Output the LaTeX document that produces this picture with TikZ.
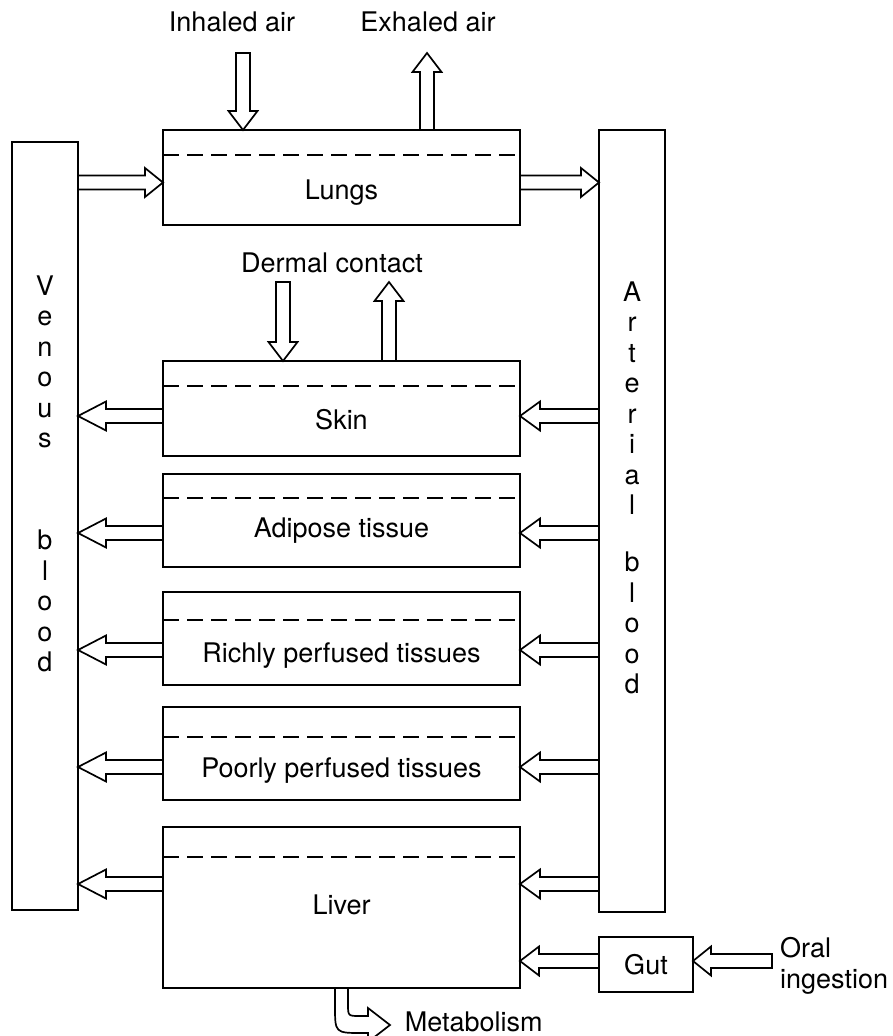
\documentclass[tikz,border=0pt]{standalone}
\usepackage{fontspec}
\setmainfont{TeX Gyre Heros}
\usetikzlibrary{calc}

\tikzset{
  box/.style={draw, rectangle, minimum width=357pt, anchor=north west, inner sep=0pt, outer sep=0pt},
  split/.style={dashed, dash pattern=on 16pt off 8pt},
  % block arrow outline, #1 is the length of the head
  hollow/.style={draw, line join=miter, to path={
      ($(\tikztostart)!7pt!-90:(\tikztotarget)$)
      -- ($(\tikztotarget)!#1!(\tikztostart)!7pt!-90:(\tikztotarget)$)
      -- ($(\tikztotarget)!#1!(\tikztostart)!14.5pt!-90:(\tikztotarget)$)
      -- (\tikztotarget)
      -- ($(\tikztotarget)!#1!(\tikztostart)!14.5pt!90:(\tikztotarget)$)
      -- ($(\tikztotarget)!#1!(\tikztostart)!7pt!90:(\tikztotarget)$)
      -- ($(\tikztostart)!7pt!90:(\tikztotarget)$) -- cycle}},
  hollow/.default=19pt
}

\begin{document}
\begin{tikzpicture}[x=1pt, y=-1pt, line width=1.7pt,
    every node/.style={font=\fontsize{27}{30.5}\selectfont}]
  \useasboundingbox (0,0) rectangle (893,1036);

  % compartments
  \node[box, minimum height=95pt] (lungs) at (163,130) {};
  \node[box, minimum height=95pt] (skin) at (163,361) {};
  \node[box, minimum height=93pt] (adip) at (163,474) {};
  \node[box, minimum height=93pt] (rich) at (163,592) {};
  \node[box, minimum height=93pt] (poor) at (163,707) {};
  \node[box, minimum height=161pt] (liver) at (163,827) {};
  \node[box, minimum width=66pt, minimum height=768pt] (ven) at (12,142) {};
  \node[box, minimum width=66pt, minimum height=782pt] (art) at (599,130) {};
  \node[box, minimum width=94pt, minimum height=55pt] (gut) at (599,937) {Gut};

  \draw[split] ([yshift=-25pt]lungs.north west) -- ([yshift=-25pt]lungs.north east);
  \draw[split] ([yshift=-25pt]skin.north west) -- ([yshift=-25pt]skin.north east);
  \draw[split] ([yshift=-24pt]adip.north west) -- ([yshift=-24pt]adip.north east);
  \draw[split] ([yshift=-28pt]rich.north west) -- ([yshift=-28pt]rich.north east);
  \draw[split] ([yshift=-30pt]poor.north west) -- ([yshift=-30pt]poor.north east);
  \draw[split] ([yshift=-30pt]liver.north west) -- ([yshift=-30pt]liver.north east);

  \node (lungslbl) at (341.5,193) {Lungs};
  \node (skinlbl) at (341.5,420) {Skin};
  \node (adiplbl) at (341.5,531) {Adipose tissue};
  \node (richlbl) at (341.5,656) {Richly perfused tissues};
  \node (poorlbl) at (341.5,771) {Poorly perfused tissues};
  \node (liverlbl) at (341.5,905) {Liver};

  % blood pools, one letter per line
  \node[align=center] (ven1) at (45,362) {V\\e\\n\\o\\u\\s};
  \node[align=center] (ven2) at (45,601) {b\\l\\o\\o\\d};
  \node[align=center] (art1) at (632,398) {A\\r\\t\\e\\r\\i\\a\\l};
  \node[align=center] (art2) at (632,623) {b\\l\\o\\o\\d};

  % exchange with the outside
  \node (inhaled) at (232,22) {Inhaled air};
  \node (exhaled) at (428,22) {Exhaled air};
  \node (dermal) at (332,263) {Dermal contact};
  \coordinate (inh) at (243,53);
  \coordinate (exh) at (427,53);
  \coordinate (din) at (283,282);
  \coordinate (dout) at (389,282);
  \draw[hollow] (inh) to (inh |- lungs.north);
  \draw[hollow] (exh |- lungs.north) to (exh);
  \draw[hollow] (din) to (din |- skin.north);
  \draw[hollow] (dout |- skin.north) to (dout);

  % lung circulation
  \draw[hollow=18pt] (ven.east |- 0,182.5) to (lungs.west |- 0,182.5);
  \draw[hollow=18pt] (lungs.east |- 0,182.5) to (art.west |- 0,182.5);

  % arterial in, venous out
  \draw[hollow=20pt] (art.west |- 0,416) to (skin.east |- 0,416);
  \draw[hollow=28pt] (skin.west |- 0,416) to (ven.east |- 0,416);
  \draw[hollow=20pt] (art.west |- 0,533) to (adip.east |- 0,533);
  \draw[hollow=28pt] (adip.west |- 0,533) to (ven.east |- 0,533);
  \draw[hollow=20pt] (art.west |- 0,650) to (rich.east |- 0,650);
  \draw[hollow=28pt] (rich.west |- 0,650) to (ven.east |- 0,650);
  \draw[hollow=20pt] (art.west |- 0,767) to (poor.east |- 0,767);
  \draw[hollow=28pt] (poor.west |- 0,767) to (ven.east |- 0,767);
  \draw[hollow=20pt] (art.west |- 0,884) to (liver.east |- 0,884);
  \draw[hollow=28pt] (liver.west |- 0,884) to (ven.east |- 0,884);

  % oral route through the gut
  \node[anchor=west, align=left] (oral) at (776,966) {Oral\\ingestion};
  \coordinate (oralin) at (772,961);
  \draw[hollow=18pt] (oralin) to (gut.east |- oralin);
  \draw[hollow=19pt] (gut.west |- oralin) to (liver.east |- oralin);

  % metabolic loss
  \node[anchor=west, inner sep=1pt] (metab) at (403,1022) {Metabolism};
  \draw[line join=miter] (liver.south -| 335,0) -- (335,1006)
    .. controls (335,1033) .. (362,1033) -- (368,1033) -- (368,1042)
    -- (390,1025) -- (368,1008) -- (368,1016) -- (360,1016)
    .. controls (348,1016) .. (348,1004) -- (liver.south -| 348,0);
\end{tikzpicture}
\end{document}
